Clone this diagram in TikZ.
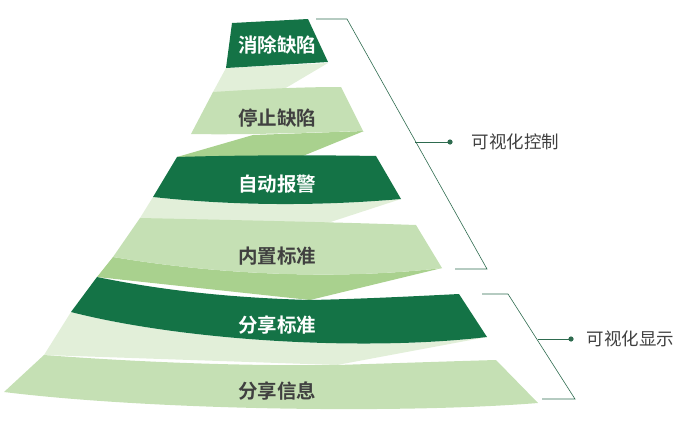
\documentclass[tikz,border=0pt]{standalone}
\usepackage{fontspec}
\newfontfamily\cjk{Noto Sans CJK SC}
\newfontfamily\cjkb{Noto Sans CJK SC Bold}
\definecolor{dk}{HTML}{147346}
\definecolor{lt}{HTML}{C5E0B4}
\definecolor{md}{HTML}{A9D18E}
\definecolor{vl}{HTML}{E2EFD9}
\definecolor{tx}{HTML}{404040}
\definecolor{br}{HTML}{2E6B4F}
\begin{document}
\begin{tikzpicture}[x=1pt,y=-1pt,
  onDark/.style={font=\cjkb\fontsize{19.5}{19.5}\selectfont,text=white},
  onLight/.style={font=\cjkb\fontsize{19.5}{19.5}\selectfont,text=tx},
  side/.style={font=\cjk\fontsize{17.5}{17.5}\selectfont,text=tx,anchor=west},
  brk/.style={draw=br,line width=0.6pt}]
\useasboundingbox (0,0) rectangle (693,426);
% connectors
\fill[vl] (226,68) -- (328,63) -- (279,92) -- (213,92) -- cycle;
\fill[md] (253,135) -- (364,131) -- (293,160) -- (177,157) -- cycle;
\fill[vl] (401,199) -- (306,230) -- (140,218) -- (153,197) .. controls (235,206) and (320,206) .. (401,199);
\fill[md] (442,268) -- (310,300) -- (97,277) -- (113,257) .. controls (220,275) and (340,280) .. (442,268);
\fill[vl] (487,337) -- (337,365) -- (44,355) -- (71,312) .. controls (180,340) and (360,352) .. (487,337);
% bands
\fill[dk] (232,23) -- (308,19) -- (328,62) -- (226,68) -- cycle;
\fill[lt] (213,92) .. controls (260,89) and (300,87) .. (341,87) -- (363,131) .. controls (300,133) and (240,135) .. (191,134) -- cycle;
\fill[dk] (177,157) .. controls (240,155) and (320,155) .. (376,156) -- (401,199) .. controls (320,206) and (235,206) .. (153,197) -- cycle;
\fill[lt] (140,218) .. controls (230,220) and (330,222) .. (416,225) -- (442,268) .. controls (340,280) and (220,275) .. (113,257) -- cycle;
\fill[dk] (97,277) .. controls (170,292) and (240,298) .. (310,300) .. controls (360,299) and (420,296) .. (459,294) -- (487,337) .. controls (360,352) and (180,340) .. (71,312) -- cycle;
\fill[lt] (44,355) .. controls (150,363) and (250,366) .. (337,365) .. controls (400,363) and (460,361) .. (496,360) -- (538,403) .. controls (400,414) and (150,410) .. (4,392) -- cycle;
% labels
\node[onDark] (t1) at (277,45) {消除缺陷};
\node[onLight] (t2) at (277,118) {停止缺陷};
\node[onDark] (t3) at (277,184) {自动报警};
\node[onLight] (t4) at (277,256) {内置标准};
\node[onDark] (t5) at (277,325) {分享标准};
\node[onLight] (t6) at (277,391) {分享信息};
% brackets
\draw[brk] (316,19) -- (347,19) -- (487,269) -- (455,269);
\coordinate (k1) at (415,142);
\draw[brk] (k1) -- (450,142) coordinate (d1);
\fill[br] (d1) circle (2.6);
\node[side] (s1) at (468,142) {可视化控制};
\draw[brk] (482,294) -- (508,294) -- (575,399) -- (542,399);
\coordinate (k2) at (538,339);
\draw[brk] (k2) -- (571,339) coordinate (d2);
\fill[br] (d2) circle (2.6);
\node[side] (s2) at (583,339) {可视化显示};
\end{tikzpicture}
\end{document}
